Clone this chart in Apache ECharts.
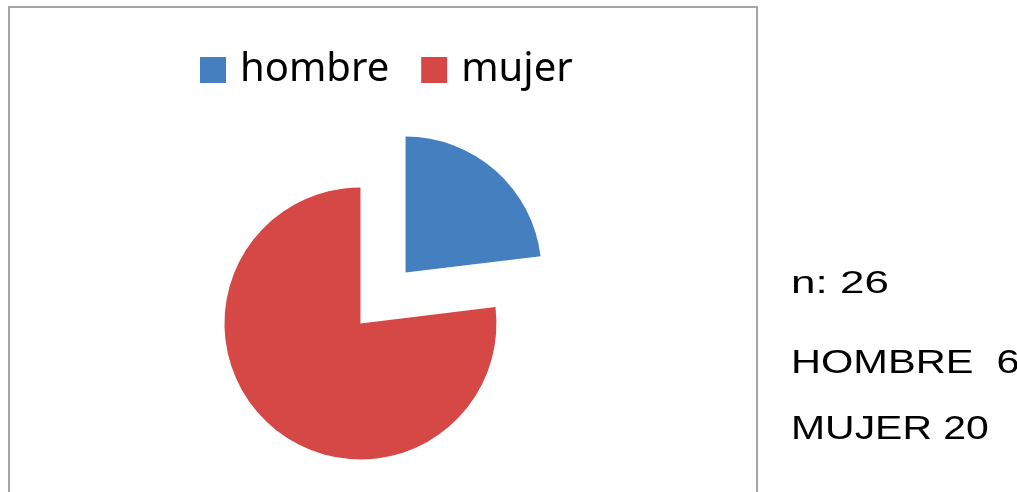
<!DOCTYPE html>
<html>
<head>
<meta charset="utf-8">
<script src="https://cdn.jsdelivr.net/npm/echarts@6/dist/echarts.min.js"></script>
<style>
  html, body { margin: 0; padding: 0; background: #fff; }
  #chart { width: 1017px; height: 492px; }
</style>
</head>
<body>
<div id="chart"></div>
<script>
  // datos
  var categorias = ['hombre', 'mujer'];
  var valores = [6, 20];
  var colores = ['#4480c0', '#d54846'];
  var total = valores[0] + valores[1];
  var notas = ['n: ' + total, 'HOMBRE  ' + valores[0], 'MUJER ' + valores[1]];

  var myChart = echarts.init(document.getElementById('chart'));

  var pieData = [];
  for (var i = 0; i < categorias.length; i++) {
    pieData.push({
      name: categorias[i],
      value: valores[i],
      selected: true,
      itemStyle: { color: colores[i] }
    });
  }

  var option = {
    animation: false,
    color: colores,
    legend: {
      data: categorias,
      left: 195,
      top: 45,
      icon: 'rect',
      itemWidth: 26,
      itemHeight: 26,
      itemGap: 32,
      selectedMode: false,
      textStyle: {
        fontFamily: 'Noto Sans',
        fontSize: 40,
        color: '#000',
        padding: [0, 0, 0, 9]
      }
    },
    graphic: [
      {
        type: 'rect',
        shape: { x: 9, y: 7, width: 748, height: 520 },
        style: { fill: 'none', stroke: '#a6a6a6', lineWidth: 2 },
        silent: true
      },
      {
        type: 'text', x: 791, y: 284, scaleX: 1.42,
        style: { text: notas[0], fontFamily: 'Liberation Sans', fontSize: 31, fill: '#000', verticalAlign: 'middle' }
      },
      {
        type: 'text', x: 791, y: 364, scaleX: 1.26,
        style: { text: notas[1], fontFamily: 'Liberation Sans', fontSize: 33, fill: '#000', verticalAlign: 'middle' }
      },
      {
        type: 'text', x: 791, y: 430, scaleX: 1.24,
        style: { text: notas[2], fontFamily: 'Liberation Sans', fontSize: 33, fill: '#000', verticalAlign: 'middle' }
      }
    ],
    series: [{
      type: 'pie',
      center: [383, 298],
      radius: 136,
      startAngle: 90,
      clockwise: true,
      selectedMode: 'multiple',
      selectedOffset: 34,
      label: { show: false },
      labelLine: { show: false },
      emphasis: { disabled: true },
      select: { itemStyle: { borderWidth: 0 } },
      data: pieData
    }]
  };

  myChart.setOption(option);
</script>
</body>
</html>
